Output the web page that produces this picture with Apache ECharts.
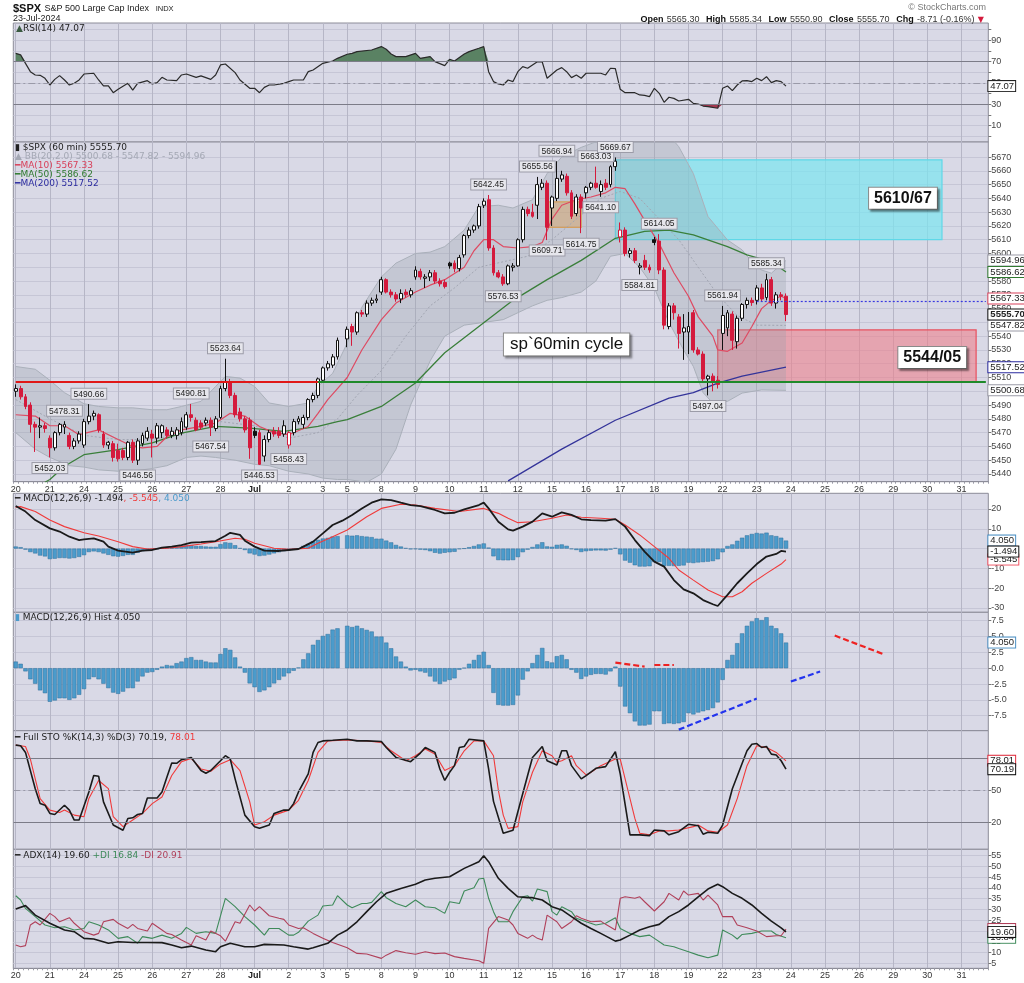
<!DOCTYPE html>
<html><head><meta charset="utf-8">
<script src="https://cdn.jsdelivr.net/npm/echarts@6/dist/echarts.min.js"></script>
<style>html,body{margin:0;padding:0;background:#fff}#c{width:1024px;height:983px}</style>
</head><body><div id="c"></div>
<script>
// ---------------- DATA ----------------
const days = ['Jun 20','Jun 21','Jun 24','Jun 25','Jun 26','Jun 27','Jun 28','Jul 1','Jul 2','Jul 3','Jul 5','Jul 8','Jul 9','Jul 10','Jul 11','Jul 12','Jul 15','Jul 16','Jul 17','Jul 18','Jul 19','Jul 22','Jul 23','Jul 24','Jul 25','Jul 26','Jul 29','Jul 30','Jul 31'];
const dayLabels = ['20','21','24','25','26','27','28','Jul','2','3','5','8','9','10','11','12','15','16','17','18','19','22','23','24','25','26','29','30','31'];
const barsPerDay = [7,7,7,7,7,7,7,7,7,5,7,7,7,7,7,7,7,7,7,7,7,7,7,7,7,7,7,7,6];

// hourly candles [open, high, low, close]
const ohlc = [
[5500,5505,5496,5502],[5502,5504,5494,5496],[5496,5498,5487,5489],[5490,5492,5470,5476],[5476,5478,5456,5474],[5474,5481,5466,5475],[5475,5477,5470,5473],
[5466,5468,5452.03,5459],[5459,5471,5457,5470],[5470,5477,5468,5476],[5474,5478.31,5469,5476],[5468,5470,5458,5460],[5460,5466,5458,5464],[5464,5471,5462,5469],
[5461,5480,5459,5478],[5478,5490.66,5476,5482],[5482,5486,5479,5484],[5483,5484,5470,5472],[5469,5471,5459,5461],[5461,5464,5458,5463],[5462,5464,5449,5452],
[5457,5462,5449,5451],[5457,5459,5450,5452],[5452,5464,5450,5463],[5463,5465,5448,5450],[5450,5466,5446.56,5464],[5462,5470,5460,5468],[5466,5474,5464,5471],
[5469,5472,5452,5466],[5466,5477,5462,5475],[5470,5476,5466,5475],[5472,5474,5466,5468],[5468,5474,5466,5471],[5468,5474,5465,5472],[5470,5481,5468,5478],
[5474,5485,5472,5483],[5483,5490.81,5478,5481],[5479,5481,5471,5472],[5477,5479,5472,5474],[5477,5481,5475,5479],[5479,5481,5467.54,5474],[5473,5482,5471,5480],
[5481,5504,5480,5502],[5502,5523.64,5500,5507],[5507,5509,5495,5497],[5497,5499,5481,5483],[5485,5488,5478,5480],[5480,5482,5470,5472],[5479,5481,5451,5459],
[5471,5474,5466,5468],[5470,5472,5446.53,5447],[5453,5468,5449,5465],[5465,5472,5463,5470],[5471,5474,5467,5469],[5471,5474,5466,5468],[5469,5479,5467,5475],
[5461,5471,5458.43,5470],[5470,5480,5468,5478],[5478,5482,5476,5480],[5476,5483,5473,5481],[5481,5495,5479,5494],[5494,5499,5492,5497],[5497,5510,5495,5509],
[5508,5518,5507.4,5517],[5517,5522,5515,5520],[5519,5527,5517,5525],[5525,5539,5523,5537],null,
[5538,5547,5532,5545],[5547,5549,5533,5543],[5543,5558,5541,5557],[5557,5559,5554,5556],[5556,5566,5554,5564],[5564,5568,5562,5566],[5566,5570.3,5564,5567],
[5572,5583.1,5570,5581],[5581,5582,5571,5572],[5572,5574,5568,5570],[5570,5572,5565,5567],[5567,5574,5564,5571],[5572,5574,5568,5570],[5570,5575,5568,5573],
[5583,5590.7,5581,5588],[5587,5589,5581,5583],[5582,5585,5575,5583],[5583,5588,5580,5586],[5586,5588,5578,5580],[5580,5582,5576,5578],[5579,5581,5574.6,5576],
[5593,5594,5589,5591],[5593,5595,5586.4,5589],[5589,5599,5587,5597],[5599,5614,5597,5613],[5613,5619,5611,5617],[5617,5621,5615,5620],[5620,5636,5618,5634],
[5635,5640,5633,5638],[5639,5642.45,5602,5604],[5604,5606,5584,5586],[5586,5588,5582,5583],[5583,5585,5576.53,5578],[5578,5592,5577,5591],[5590,5593,5587,5591],
[5591,5611,5590.4,5610],[5610,5634,5608,5632],[5632,5634,5627,5629],[5630,5636,5626,5627],[5635,5655.56,5625,5650],[5648,5654,5646,5651],[5651,5653,5609.71,5619],
[5633,5642,5620,5641],[5640,5666.94,5638,5654.5],[5654,5660,5652,5657],[5656,5658,5642,5644],[5644,5646,5625,5627],[5629,5643,5627,5641],[5641,5643,5614.75,5633],
[5644,5649,5640,5648],[5648,5652,5646,5651],[5651,5663.03,5647,5648],[5645,5653,5641.1,5650],[5651,5654,5646,5648],[5650,5664,5648,5663],[5663,5669.67,5660,5667],
[5612,5622.5,5608,5617],[5617,5619,5598,5600],[5600,5604,5597,5602],[5602,5604,5593,5595],[5590,5593,5584.81,5591],[5595,5599,5588,5590],[5590,5592,5586,5588],
[5610,5612,5606,5608],[5609,5614.05,5585,5588],[5588,5590,5545,5548],[5547,5564,5545,5562],[5562,5564,5552,5557],[5554,5556,5531,5542],[5543,5556,5522.8,5546],
[5543,5557.5,5527,5547],[5557,5559,5528,5530],[5530,5532,5526,5527],[5527,5529,5507,5509],[5509,5512,5497.04,5511],[5511,5513,5500,5507],[5508,5511,5502,5505],
[5542,5561.94,5530,5555],[5546,5559,5540,5557],[5556,5558,5530,5537],[5536,5555,5531,5553],[5553,5564,5551,5563],[5563,5568,5560,5566],[5566,5568,5562,5564.4],
[5566,5577,5563,5575],[5575,5578,5565,5567],[5568,5585.34,5566,5581],[5581,5583,5562,5564],[5564,5572,5560,5570],[5570,5572,5566,5569],[5569,5571,5550.9,5555.7]
];
const blackBars = [49,89,131];
const hollowRedBars = [56,124];

const ma10 = [[0,5483],[4,5482],[7,5475],[10,5475],[13,5468.5],[17,5472],[21,5465],[24,5460],[26,5459],[29,5460],[31,5467],[34,5472],[38,5474.5],[41,5477],[44,5484],[47,5482],[50,5474.5],[53,5470],[56,5468.5],[60,5474.5],[62,5484],[64,5494],[66,5502],[68,5510],[71,5530],[75,5552],[78,5564],[82,5572],[85,5577],[88,5581],[92,5590],[94,5602],[96,5610],[98,5610],[100,5605],[103,5604],[106,5605],[108,5608],[110,5625],[112,5635],[115,5639],[118,5641],[121,5644],[123,5648],[125,5647],[127,5636],[129,5624],[132,5607],[135,5586],[138,5569],[140,5554],[143,5540],[144,5530],[146,5529],[149,5535],[151,5547],[153,5560],[155,5566],[157,5569],[158,5567.33]];
const ma50 = [[6,5434],[7,5436],[10,5445.6],[14,5454],[21,5457.6],[28,5462.5],[34,5469.7],[41,5474.5],[48,5473.3],[55,5470.9],[62,5474.5],[66,5478],[68,5479.4],[75,5489],[82,5506],[88,5528],[95,5547],[102,5566],[109,5581],[116,5595],[123,5611],[129,5616],[134,5617],[139,5613.5],[146,5605],[150,5599],[155,5594],[158,5586.62]];
const ma200 = [[101,5435],[112,5458],[123,5479],[134,5495],[139,5499],[144,5506],[149,5511],[158,5517.52]];
const bbUpper = [[0,5518],[4,5516],[7,5508],[10,5499],[14,5491],[17,5489],[21,5488],[24,5488],[28,5486.6],[31,5486.6],[34,5489],[38,5492.7],[41,5503.5],[43,5510.8],[46,5509.6],[49,5503.5],[52,5491.5],[56,5489],[60,5491.5],[62,5503.5],[65,5513],[68,5535],[71,5561],[75,5583],[78,5593],[82,5600],[85,5601],[88,5605],[92,5617],[95,5634],[99,5635],[102,5633],[106,5639],[109,5658],[112,5670],[116,5677],[119,5681],[122,5690],[128,5700],[133,5690],[136,5677.5],[139,5658],[142,5626.8],[146,5609.8],[149,5602.6],[151,5594],[153,5588],[155,5585.7],[158,5594.96]];
const bbLower = [[0,5470],[4,5458],[7,5452],[11,5446],[14,5445],[17,5443],[21,5442],[24,5442],[28,5444],[31,5446],[35,5452],[38,5453],[41,5452],[45,5450],[49,5447],[52,5446],[56,5442],[60,5440],[63,5437],[66,5436],[68,5436],[72,5434],[75,5440],[78,5458],[81,5490],[85,5522],[88,5540],[92,5548],[96,5550],[100,5552],[103,5557],[106,5562],[109,5566],[112,5568],[116,5572],[119,5580],[122,5598],[125,5600],[128,5590],[131,5575],[134,5550],[137,5530],[139,5518],[141,5499],[143,5491.5],[146,5492.7],[149,5498.7],[153,5501],[158,5500.68]];
const bbMid = [[0,5494],[7,5480],[14,5468],[21,5465],[28,5465],[35,5470],[42,5478],[49,5475],[56,5466],[62,5470],[66,5480],[70,5497],[75,5515],[80,5540],[85,5562],[90,5575],[95,5590],[100,5594],[105,5598],[110,5610],[115,5625],[120,5640],[124,5645],[128,5640],[132,5625],[136,5610],[140,5590],[144,5570],[148,5555],[152,5548],[158,5547.82]];

const rsi = [[0,77.8],[1,76.3],[2,68.4],[3,60.6],[4,57.5],[5,57.2],[6,54.4],[7,48.1],[8,53.4],[9,56.9],[10,52.8],[11,48.1],[12,49.7],[13,52.8],[14,58.4],[16,59.1],[17,52.8],[18,47.2],[19,47.2],[20,40.9],[21,44.1],[23,49.7],[24,43.4],[25,49.7],[27,52.2],[28,49.1],[29,50.3],[30,55.3],[31,52.8],[33,52.2],[34,57.5],[35,58.4],[37,55.3],[38,56.6],[40,53.4],[41,57.5],[42,66.9],[43,67.8],[45,59.7],[46,52.8],[48,45.0],[49,45.0],[50,40.9],[51,45.9],[52,48.1],[53,48.1],[55,49.7],[56,51.3],[57,52.8],[59,52.8],[60,60.6],[61,62.2],[63,68.4],[65,70.6],[66,73.1],[68,76.9],[69,77.8],[70,79.4],[73,80.9],[75,84.1],[76,81.6],[77,77.2],[78,74.7],[80,74.7],[82,77.8],[83,73.1],[85,74.7],[86,70.0],[88,66.3],[89,72.2],[90,70.6],[92,77.2],[93,79.4],[95,82.5],[96,84.1],[97,60.6],[98,51.3],[99,49.1],[100,48.1],[101,52.8],[102,51.3],[103,60.6],[104,65.3],[105,63.8],[107,70.0],[108,69.7],[109,54.4],[111,62.2],[112,64.4],[113,60.6],[114,55.0],[115,57.5],[116,54.4],[117,59.1],[120,59.1],[121,57.5],[122,63.8],[123,63.4],[124,44.1],[125,40.9],[127,40.9],[128,38.8],[129,38.4],[130,37.2],[131,45.0],[132,40.3],[133,31.9],[134,36.6],[135,35.6],[136,33.1],[138,34.7],[139,30.9],[140,30.3],[141,28.4],[142,27.8],[144,26.3],[145,45.0],[146,47.2],[147,42.8],[148,48.1],[149,51.9],[150,52.2],[151,51.3],[152,54.4],[153,52.2],[154,55.9],[155,50.3],[156,52.2],[157,51.3],[158,47.07]];

const macd = [[0,21.5],[2,18.7],[4,14.4],[7,10.2],[9,8.6],[11,6.0],[13,4.3],[14,4.7],[16,5.2],[18,3.5],[19,1.0],[21,-1.0],[24,-2.0],[26,-1.0],[28,-0.7],[30,0.5],[32,1.0],[34,1.8],[36,3.0],[38,3.3],[41,3.8],[43,6.5],[44,8.0],[46,6.9],[47,4.0],[49,1.0],[51,-1.0],[54,-1.2],[56,-0.7],[58,-0.2],[59,1.0],[61,3.5],[63,7.7],[65,11.9],[67,14.1],[69,17.0],[71,20.3],[73,23.2],[75,24.9],[77,24.5],[79,23.2],[81,22.0],[83,21.5],[86,19.5],[88,17.8],[90,18.1],[92,19.8],[95,22.0],[96,23.2],[97,20.3],[99,13.6],[101,9.7],[102,9.1],[104,11.1],[106,13.6],[108,17.8],[110,16.1],[112,18.3],[114,17.0],[116,14.8],[118,14.4],[121,14.1],[123,14.9],[125,11.1],[127,4.3],[129,-1.5],[131,-6.6],[133,-9.1],[135,-15.9],[137,-20.6],[139,-22.6],[141,-26.0],[143,-28.1],[144,-29.0],[146,-23.4],[148,-17.5],[150,-12.5],[152,-7.8],[154,-4.0],[156,-2.7],[157,-1.2],[158,-1.494]];
const signal = [[0,20.8],[1,21.2],[4,18.7],[7,14.4],[10,11.1],[14,8.0],[17,6.4],[21,3.5],[24,1.0],[27,-0.2],[31,0.2],[34,1.0],[38,2.3],[41,3.5],[45,5.2],[47,4.7],[49,2.7],[53,0.2],[56,-0.4],[60,0.2],[62,2.7],[65,6.0],[68,9.4],[72,16.1],[75,20.3],[79,22.4],[82,22.0],[86,20.3],[91,18.7],[96,20.3],[99,17.8],[101,15.3],[103,13.1],[106,13.6],[110,15.3],[113,17.0],[116,15.8],[120,15.3],[123,14.8],[125,11.9],[128,6.9],[131,1.0],[134,-4.9],[136,-10.8],[139,-15.9],[142,-20.9],[145,-24.3],[147,-24.3],[149,-21.8],[151,-17.5],[154,-12.5],[157,-7.8],[158,-5.545]];
const hist = [1.05,0.7,-0.5,-1.75,-2.45,-3.5,-3.95,-5.3,-5.1,-4.75,
-4.75,-5.0,-4.75,-4.2,-3.3,-1.75,-1.4,-1.75,-2.45,-3.15,
-3.85,-4.05,-3.7,-3.15,-3.15,-2.1,-1.3,-0.7,-0.6,-0.25,
0.25,0.5,0.4,0.8,1.05,1.6,1.75,1.3,1.3,1.05,
0.9,0.9,2.25,3.15,2.9,1.7,0.25,-0.7,-2.4,-3.0,
-3.75,-3.5,-3.0,-2.4,-1.85,-1.3,-0.8,-0.4,0.1,1.4,
2.35,3.7,4.45,5.1,5.4,6.1,6.3,null,6.7,6.5,
6.7,6.3,6.05,5.8,5.0,5.0,4.05,3.15,1.85,1.05,
0.25,-0.35,-0.25,-0.5,-0.7,-1.3,-2.1,-2.5,-2.1,-1.85,
-1.6,-0.25,0.05,0.7,1.3,2.1,2.6,0.5,-3.9,-5.8,
-5.9,-5.9,-5.8,-4.3,-1.8,-0.5,0.8,2.1,3.2,1.1,
0.9,1.9,2.1,1.4,-0.25,-0.7,-1.7,-1.3,-1.05,-0.9,
-0.9,-1.0,-0.5,0.25,-2.9,-6.05,-7.1,-8.4,-9.05,-9.05,
-8.9,-6.8,-6.8,-8.8,-8.7,-8.8,-8.7,-8.5,-7.1,-7.3,
-7.0,-6.8,-6.6,-6.3,-5.4,-1.85,1.3,2.1,3.95,5.5,
6.7,7.4,7.9,7.6,8.05,6.7,6.3,5.5,4.05];

const stoK = [[0,92.7],[1,92.1],[2,85.9],[4,51.9],[5,37.9],[6,36.4],[7,28.7],[8,27.7],[10,36.4],[11,31.8],[12,22.5],[13,22.5],[15,48.8],[16,64.2],[17,63.6],[18,39.5],[20,17.8],[22,12.9],[23,24.0],[24,24.6],[25,27.7],[26,28.7],[27,43.2],[29,43.2],[30,48.8],[31,62.7],[32,76.0],[33,75.7],[34,79.1],[36,81.2],[37,75.1],[38,68.9],[39,66.4],[40,68.9],[42,78.1],[43,82.8],[44,79.7],[45,61.1],[47,27.1],[49,16.3],[50,14.7],[52,17.8],[53,28.7],[55,31.8],[56,31.8],[57,37.9],[58,48.8],[60,65.8],[61,85.9],[62,95.2],[63,96.7],[65,97.3],[68,98.3],[70,96.7],[72,96.7],[75,96.1],[76,90.5],[78,81.2],[81,77.2],[83,85.3],[84,90.5],[86,85.9],[87,70.4],[88,59.6],[89,67.3],[90,73.5],[91,90.5],[92,91.4],[93,98.3],[96,96.7],[97,70.4],[98,40.0],[100,10.1],[101,11.6],[102,12.9],[103,30.2],[105,64.2],[106,81.2],[108,91.4],[109,78.1],[111,74.1],[112,87.4],[113,87.4],[114,73.5],[116,61.1],[117,64.2],[119,71.0],[121,72.6],[123,86.5],[124,65.8],[126,8.6],[128,8.6],[130,7.9],[131,13.2],[133,12.3],[134,8.6],[136,11.6],[138,18.5],[140,17.2],[141,9.2],[142,11.0],[144,10.1],[145,17.8],[147,51.9],[150,87.4],[151,93.6],[152,94.2],[153,90.5],[154,91.4],[155,84.3],[156,83.4],[157,78.1],[158,70.19]];
const stoD = [[0,92.7],[2,91.4],[3,79.7],[5,42.6],[7,31.8],[9,29.6],[10,31.8],[12,27.1],[14,25.6],[15,42.6],[17,59.6],[19,51.9],[20,25.6],[22,16.3],[24,22.5],[26,28.7],[28,37.9],[30,44.1],[32,64.2],[34,77.2],[36,80.3],[38,70.4],[40,68.2],[42,75.1],[44,79.1],[46,68.9],[48,39.5],[49,17.8],[51,20.9],[53,27.1],[56,31.8],[58,41.0],[60,59.6],[62,85.9],[64,96.7],[68,97.6],[72,96.7],[75,95.2],[77,87.4],[80,78.1],[82,82.8],[84,89.0],[86,84.3],[88,68.9],[90,73.5],[92,87.4],[94,96.7],[96,96.7],[98,82.8],[99,50.3],[100,27.1],[101,14.7],[103,16.3],[104,39.5],[106,67.3],[108,87.4],[110,82.8],[111,76.6],[112,78.1],[114,82.8],[115,73.5],[117,64.8],[118,67.3],[120,73.5],[123,79.7],[124,79.7],[125,61.1],[127,24.0],[128,10.1],[130,8.6],[132,12.3],[134,12.3],[136,13.2],[139,16.3],[140,17.8],[142,12.3],[144,11.0],[146,17.8],[148,42.6],[150,73.5],[152,92.1],[154,90.5],[156,85.9],[158,78.01]];

const adx = [[0,30.2],[2,31.8],[4,27.4],[7,23.6],[10,20.5],[12,19.7],[14,16.6],[16,16.3],[19,14.3],[21,15.0],[24,14.7],[27,14.7],[30,14.6],[32,13.5],[34,12.2],[36,13.0],[39,11.2],[41,10.4],[42,12.7],[44,14.3],[47,12.7],[49,12.7],[51,13.8],[55,13.5],[57,12.7],[60,11.6],[61,12.2],[64,14.3],[66,18.1],[68,20.5],[70,24.3],[72,29.0],[74,33.6],[76,37.5],[79,39.8],[82,41.7],[84,43.7],[86,44.5],[89,45.2],[92,49.1],[95,52.2],[96,55.0],[97,52.2],[99,44.5],[101,39.8],[103,35.9],[105,35.5],[106,35.5],[108,34.4],[110,31.3],[112,29.8],[114,26.7],[116,23.6],[118,21.2],[120,18.9],[123,15.3],[124,15.8],[126,18.1],[128,20.5],[130,22.0],[132,23.1],[134,26.7],[136,29.0],[138,32.1],[140,35.9],[142,39.5],[144,41.7],[145,40.6],[147,37.5],[149,35.2],[151,32.1],[153,28.2],[155,24.6],[157,21.5],[158,19.60]];
const diPlus = [[0,36.4],[1,34.4],[2,30.5],[4,26.7],[6,22.8],[8,21.5],[10,22.0],[12,20.5],[14,21.2],[15,24.3],[17,22.8],[19,20.5],[21,16.6],[23,17.4],[25,14.3],[26,17.4],[28,16.6],[30,18.1],[32,16.6],[34,18.9],[35,21.7],[37,18.9],[39,19.7],[41,18.9],[43,35.2],[45,31.3],[47,26.7],[49,22.8],[51,18.1],[52,21.2],[54,21.2],[56,18.1],[57,18.1],[58,19.4],[60,24.6],[62,27.4],[63,31.6],[65,32.1],[66,36.4],[68,32.1],[69,30.8],[71,32.8],[72,32.8],[73,33.3],[75,38.3],[76,35.5],[78,32.8],[80,31.3],[82,34.4],[84,31.3],[86,30.8],[88,28.2],[89,33.6],[91,32.8],[92,38.6],[94,40.1],[95,44.2],[96,44.5],[97,35.2],[98,29.0],[99,24.3],[101,24.3],[102,29.0],[104,35.9],[105,36.4],[106,33.9],[107,39.5],[109,38.3],[110,29.0],[111,27.4],[112,31.3],[114,29.0],[115,25.9],[117,24.3],[119,22.8],[121,23.6],[123,26.2],[124,21.2],[126,18.9],[128,17.4],[130,18.1],[131,16.6],[133,13.5],[135,12.7],[136,11.9],[138,10.4],[140,8.8],[142,7.6],[144,8.8],[145,20.5],[147,18.1],[148,16.3],[149,18.4],[151,18.9],[153,20.0],[155,20.0],[156,18.4],[158,16.84]];
const diMinus = [[0,13.5],[1,12.7],[2,13.2],[3,22.8],[4,24.3],[5,22.8],[7,28.2],[8,26.7],[9,24.3],[11,26.2],[12,23.6],[14,19.7],[16,18.1],[17,18.9],[18,24.3],[20,25.4],[21,23.6],[23,21.2],[24,23.1],[25,21.2],[27,20.0],[28,23.6],[30,20.5],[31,18.9],[32,18.4],[34,15.8],[36,13.5],[37,17.8],[39,15.8],[40,20.0],[42,17.8],[43,15.3],[45,24.3],[46,23.6],[48,32.1],[49,29.3],[50,31.3],[52,27.1],[54,25.9],[55,25.4],[56,22.8],[58,21.2],[59,21.5],[61,18.9],[63,16.6],[65,14.7],[68,12.2],[70,9.6],[72,9.3],[75,7.3],[76,8.8],[78,10.9],[80,9.9],[82,9.2],[84,10.4],[86,9.5],[88,9.8],[90,8.1],[92,7.3],[95,6.2],[96,5.0],[97,21.2],[99,26.7],[101,25.1],[102,22.8],[103,18.9],[105,16.6],[106,18.1],[107,16.6],[108,15.8],[109,27.4],[111,24.3],[112,21.2],[114,24.3],[115,27.1],[116,25.9],[117,25.1],[118,24.3],[120,24.6],[121,23.1],[123,20.5],[124,35.2],[125,35.9],[127,35.2],[128,35.9],[129,33.6],[131,29.3],[133,33.6],[134,37.5],[136,34.4],[137,38.6],[138,36.7],[140,37.5],[141,34.4],[142,36.7],[144,32.1],[145,26.7],[147,26.7],[148,22.8],[150,21.5],[152,20.0],[154,17.4],[156,17.8],[157,17.8],[158,20.91]];

// swing labels
const swingHighs = [[10,5478.31],[15,5490.66],[36,5490.81],[43,5523.64],[97,5642.45],[107,5655.56],[111,5666.94],[119,5663.03],[123,5669.67],[132,5614.05],[145,5561.94],[154,5585.34]];
const swingLows = [[7,5452.03],[25,5446.56],[40,5467.54],[50,5446.53],[56,5458.43],[100,5576.53],[109,5609.71],[116,5614.75],[120,5641.10],[128,5584.81],[142,5497.04]];

// annotations
const zones = [
  {from:123, to:190, lo:5610, hi:5668, fill:'rgba(125,228,240,0.72)', line:'#5fd8e8'},
  {from:144, to:197, lo:5507, hi:5544.5, fill:'rgba(236,128,140,0.6)', line:'#e8505e'},
  {from:109, to:116, lo:5619, hi:5637.5, fill:'rgba(240,170,90,0.55)', line:'#f0a040'}
];
const notes = [
  {text:'5610/67', x:182.4, y:5640, size:16, bold:true},
  {text:'5544/05', x:188.2, y:5524.5, size:16, bold:true},
  {text:'sp`60min cycle', x:113, y:5534, size:17, bold:false}
];
const levelLine = 5507;
const levelSplit = 62;
const openLine = 5565.3;
const histNotes = [
  {c:'#ee2222', pts:[[123.1,0.89],[129.1,0.26]]},
  {c:'#ee2222', pts:[[131.1,0.53],[134.9,0.53]]},
  {c:'#ee2222', pts:[[168,5.16],[178.3,2.21]]},
  {c:'#2233ee', pts:[[136.1,-9.7],[152.1,-4.8]]},
  {c:'#2233ee', pts:[[159.2,-2.11],[165.1,-0.53]]}
];

// axis ticks
const rsiTicks = [0,10,20,30,40,50,60,70,80,90,100];
const rsiLabels = [10,30,50,70,90];
const priceTicks = []; for (let v = 5440; v <= 5670; v += 10) priceTicks.push(v);
const macdTicks = [-30,-20,-10,0,10,20];
const histTicks = [-7.5,-5,-2.5,0,2.5,5,7.5];
const stoTicks = [20,50,80];
const adxTicks = [5,10,15,20,25,30,35,40,45,50,55];

const rsiTags = [[47.07,'47.07','#222']];
const priceTags = [[5594.96,'5594.96','#9a9aa6'],[5586.62,'5586.62','#2f7a2f'],[5567.33,'5567.33','#d8405a'],[5547.82,'5547.82','#9a9aa6'],[5555.70,'5555.70','#111',true],[5517.52,'5517.52','#2b2b9f'],[5500.68,'5500.68','#9a9aa6']];
const macdTags = [[4.05,'4.050','#4b8fc4'],[-5.545,'-5.545','#f05060'],[-1.494,'-1.494','#111']];
const histTags = [[4.05,'4.050','#4b8fc4']];
const stoTags = [[78.01,'78.01','#e03040'],[70.19,'70.19','#111']];
const adxTags = [[20.91,'20.91','#b0405a'],[16.84,'16.84','#3e8a5a'],[19.60,'19.60','#111']];

// ---------------- BUILD ----------------
const categories = []; const dayStartLabel = {};
days.forEach((d, k) => { for (let b = 0; b < barsPerDay[k]; b++) { if (b === 0) dayStartLabel[categories.length] = dayLabels[k]; categories.push(d + ' #' + (b + 1)); } });
const LAST = categories.length - 1;
const isDayStart = (idx) => dayStartLabel[idx] !== undefined;

const BG = '#d9d9e6', BORDER = '#8c8c98', RED = '#d41a3c';
const FONT = 'Liberation Sans, Arial, sans-serif';

const grids = [
  {top:23, height:119}, {top:142, height:339.7}, {top:493.3, height:119},
  {top:612.3, height:118.4}, {top:730.7, height:118.6}, {top:849.3, height:119}
].map(g => Object.assign({left:13.3, right:35.7, show:true, backgroundColor:BG, borderColor:BORDER, borderWidth:1}, g));

const xAxes = grids.map((g, i) => {
  const lab = (i === 1 || i === 5);
  return {type:'category', gridIndex:i, data:categories, boundaryGap:true,
    axisLine:{show:lab, lineStyle:{color:BORDER}},
    axisTick:{show:lab, interval:0, length:2, lineStyle:{color:'#9a9aa6'}},
    axisLabel:{show:lab, interval:(idx) => isDayStart(idx), margin:3, fontSize:9, color:'#333', fontFamily:FONT,
      formatter:(v, idx) => { const t = dayStartLabel[idx]; return t === 'Jul' ? '{b|Jul}' : (t || ''); },
      rich:{b:{fontWeight:'bold', fontSize:9, color:'#222', fontFamily:FONT}}},
    splitLine:{show:true, interval:(idx) => isDayStart(idx), alignWithLabel:true, lineStyle:{color:'#b6b6c6', width:1}}};
});

function yAx(i, min, max, ticks, labels, fmt) {
  return {type:'value', gridIndex:i, position:'right', min, max, scale:true,
    axisLine:{show:false},
    axisTick:{show:true, length:3, customValues:ticks, lineStyle:{color:'#777'}},
    axisLabel:{customValues:labels, margin:3, fontSize:9, color:'#444', fontFamily:FONT, formatter:fmt || (v => String(v))},
    splitLine:{show:true, lineStyle:{color:'#c6c6d6', width:1}}};
}
const yAxes = [
  yAx(0, -5.3, 106.2, rsiTicks, rsiLabels),
  yAx(1, 5434.4, 5680.9, priceTicks, priceTicks),
  yAx(2, -32.17, 27.93, macdTicks, macdTicks),
  yAx(3, -9.87, 8.83, histTicks, histTicks, v => v.toFixed(1)),
  yAx(4, -4.94, 106.25, stoTicks, stoTicks),
  yAx(5, 2.68, 57.97, adxTicks, adxTicks)
];

function tagMP(list) {
  return {symbol:'rect', symbolSize:1, silent:true, itemStyle:{color:'transparent'},
    data:list.map(t => ({coord:[LAST, t[0]], name:t[1],
      label:{show:true, position:'right', distance:2, formatter:'{b}', fontSize:9.5, lineHeight:9, fontFamily:FONT,
        fontWeight:t[3] ? 'bold' : 'normal', color:'#222', backgroundColor:'#fff', borderColor:t[2], borderWidth:1, padding:[1,1,0,2]}}))};
}
function line(name, xi, data, color, width, extra) {
  return Object.assign({name, type:'line', xAxisIndex:xi, yAxisIndex:xi, data, symbol:'none', silent:true,
    lineStyle:{color, width}, z:3, animation:false}, extra || {});
}
const refLine = (v, dash) => ({yAxis:v, lineStyle:{color: dash ? '#9a9aa8' : '#7c7c88', width:1.2, type: dash ? [7,3,2,3] : 'solid'}});
const markLines = (arr) => ({symbol:['none','none'], silent:true, label:{show:false}, data:arr});

const candleData = ohlc.map((r, i) => {
  if (!r) return '-';
  const item = {value:[r[0], r[3], r[2], r[1]]};
  if (blackBars.includes(i)) item.itemStyle = {color:'#111', color0:'#111', borderColor:'#111', borderColor0:'#111'};
  if (hollowRedBars.includes(i)) item.itemStyle = {color:'#fff', borderColor:RED};
  return item;
});

const series = [];
// RSI
series.push(line('rsiHi', 0, rsi.map(p => [p[0], Math.max(p[1], 70)]), 'transparent', 0, {areaStyle:{origin:70, color:'#5a8263', opacity:1}, z:2}));
series.push(line('rsiLo', 0, rsi.map(p => [p[0], Math.min(p[1], 30)]), 'transparent', 0, {areaStyle:{origin:30, color:'#a3364e', opacity:1}, z:2}));
series.push(line('rsi', 0, rsi, '#2a2a2a', 1.2, {markLine:markLines([refLine(70), refLine(30), refLine(50, true)]), markPoint:tagMP(rsiTags)}));

// Price panel
series.push({type:'custom', xAxisIndex:1, yAxisIndex:1, z:1, silent:true, clip:true, data:[[0, 5500]],
  renderItem:(params, api) => {
    const pts = bbUpper.map(p => api.coord(p)).concat(bbLower.slice().reverse().map(p => api.coord(p)));
    return {type:'polygon', shape:{points:pts}, style:{fill:'rgba(150,158,170,0.30)', stroke:'none'}};
  }});
series.push(line('bbU', 1, bbUpper, '#aab0ba', 1, {z:2}));
series.push(line('bbL', 1, bbLower, '#aab0ba', 1, {z:2}));
series.push(line('bbM', 1, bbMid, '#a2a6b2', 1, {z:2, lineStyle:{color:'#a2a6b2', width:1, type:[2,2]}}));
series.push(line('ma200', 1, ma200, '#34349a', 1.3));
series.push(line('ma50', 1, ma50, '#3a7f3a', 1.3));
series.push(line('ma10', 1, ma10, '#de4a62', 1.2));
series.push({type:'candlestick', xAxisIndex:1, yAxisIndex:1, data:candleData, barWidth:3.4, z:4, silent:true,
  itemStyle:{color:'#ffffff', color0:RED, borderColor:'#111', borderColor0:RED, borderWidth:1}});
series.push(line('zones', 1, [[158, 5555.7]], 'transparent', 0, {z:5,
  markArea:{silent:true, data:zones.map(z => [{coord:[z.from, z.hi], itemStyle:{color:z.fill, borderColor:z.line, borderWidth:1.2}}, {coord:[z.to, z.lo]}])},
  markLine:{symbol:['none','none'], silent:true, label:{show:false}, data:[
    [{coord:[0, levelLine], lineStyle:{color:'#e01818', width:2, type:'solid'}}, {coord:[levelSplit, levelLine]}],
    [{coord:[levelSplit, levelLine], lineStyle:{color:'#1f8a2a', width:2, type:'solid'}}, {coord:[LAST, levelLine]}],
    [{coord:[152, openLine], lineStyle:{color:'#3a3ae0', width:1.2, type:[2,2]}}, {coord:[LAST, openLine]}]
  ]}}));
const calloutLabel = (pos) => ({show:true, position:pos, distance:5, formatter:'{b}', fontSize:8.5, fontFamily:FONT, color:'#222',
  backgroundColor:'#e6e6ec', borderColor:'#9c9ca8', borderWidth:1, padding:[1,2,0,2], lineHeight:9});
series.push(line('callouts', 1, [[158, 5555.7]], 'transparent', 0, {z:6,
  markPoint:{symbol:'rect', symbolSize:1, silent:true, itemStyle:{color:'transparent'},
    data: swingHighs.map(p => ({coord:p, name:p[1].toFixed(2), label:calloutLabel('top')}))
      .concat(swingLows.map(p => ({coord:p, name:p[1].toFixed(2), label:calloutLabel('bottom')})))}}));
series.push(line('notes', 1, [[158, 5555.7]], 'transparent', 0, {z:7,
  markPoint:{symbol:'rect', symbolSize:1, silent:true, itemStyle:{color:'transparent'},
    data: notes.map(n => ({coord:[n.x, n.y], name:n.text, label:{show:true, position:'inside', formatter:'{b}', fontSize:n.size,
      fontWeight:n.bold ? 'bold' : 'normal', fontFamily:FONT, color:'#111', backgroundColor:'#fff', borderColor:'#8a8a8a', borderWidth:1,
      padding: n.bold ? [3,5,2,5] : [3,6,2,6], shadowColor:'rgba(0,0,0,0.35)', shadowOffsetX:2, shadowOffsetY:2, shadowBlur:2}}))}}));
series.push(line('ptags', 1, [[158, 5555.7]], 'transparent', 0, {z:8, markPoint:tagMP(priceTags)}));

// MACD
const barStyle = {color:'#4b9bcb', borderColor:'#2f6f9a', borderWidth:0.5};
series.push({type:'bar', xAxisIndex:2, yAxisIndex:2, data:hist, barCategoryGap:'12%', itemStyle:barStyle, silent:true, z:2});
series.push(line('signal', 2, signal, '#f03a3a', 1.1));
series.push(line('macd', 2, macd, '#1a1a1a', 1.8, {markPoint:tagMP(macdTags)}));
// Hist
series.push({type:'bar', xAxisIndex:3, yAxisIndex:3, data:hist, barCategoryGap:'12%', itemStyle:barStyle, silent:true, z:2, markPoint:tagMP(histTags),
  markLine:{symbol:['none','none'], silent:true, label:{show:false},
    data:histNotes.map(n => [{coord:n.pts[0], lineStyle:{color:n.c, width:2.2, type:[6,3]}}, {coord:n.pts[1]}])}});
// STO
series.push(line('stoD', 4, stoD, '#f03a3a', 1.1, {markLine:markLines([refLine(80), refLine(20), refLine(50, true)])}));
series.push(line('stoK', 4, stoK, '#1a1a1a', 1.6, {markPoint:tagMP(stoTags)}));
// ADX
series.push(line('diPlus', 5, diPlus, '#3e8a5a', 1.1));
series.push(line('diMinus', 5, diMinus, '#b0405a', 1.1));
series.push(line('adx', 5, adx, '#1a1a1a', 1.6, {markPoint:tagMP(adxTags)}));

// titles
const T = (x, y, text, rich) => ({type:'text', x, y, z:100, silent:true, style:{text, rich, verticalAlign:'middle', font:'9px DejaVu Sans', fill:'#222'}});
const F = (c, w) => ({fill:c, font:(w || '') + ' 9px DejaVu Sans'});
const graphic = [
  {type:'text', x:13, y:3, z:100, silent:true, style:{text:'{a|$SPX} {b|S&P 500 Large Cap Index}  {c|INDX}', rich:{a:{fill:'#111', font:'bold 11px Liberation Sans'}, b:{fill:'#222', font:'9px Liberation Sans'}, c:{fill:'#222', font:'7.5px Liberation Sans'}}}},
  {type:'text', x:13, y:14, z:100, silent:true, style:{text:'23-Jul-2024', fill:'#222', font:'9px Liberation Sans'}},
  {type:'text', right:38, top:3, z:100, silent:true, style:{text:'© StockCharts.com', fill:'#777', font:'9px Liberation Sans'}},
  {type:'text', right:40, top:14, z:100, silent:true, style:{text:'{k|Open} {v|5565.30}  {k|High} {v|5585.34}  {k|Low} {v|5550.90}  {k|Close} {v|5555.70}  {k|Chg} {v|-8.71 (-0.16%)} {r|▼}',
    rich:{k:{fill:'#111', font:'bold 9px Liberation Sans'}, v:{fill:'#333', font:'9px Liberation Sans'}, r:{fill:'#d41a3c', font:'8px DejaVu Sans'}}}},
  T(16, 29, '{g|▲}{a|RSI(14) 47.07}', {g:F('#3a5a40'), a:F('#222')}),
  T(15, 147.5, '{a|▮ $SPX (60 min) 5555.70}', {a:F('#222')}),
  T(15, 156.7, '{a|▲ BB(20,2.0) 5500.68 - 5547.82 - 5594.96}', {a:F('#a4a8b4')}),
  T(15, 165.7, '{a|━MA(10) 5567.33}', {a:F('#d8405a')}),
  T(15, 174.7, '{a|━MA(50) 5586.62}', {a:F('#2f7a2f')}),
  T(15, 183.3, '{a|━MA(200) 5517.52}', {a:F('#2b2b9f')}),
  T(15, 499, '{a|━ MACD(12,26,9) -1.494}{r|, -5.545}{b|, 4.050}', {a:F('#222'), r:F('#f03a3a'), b:F('#4b9bcb')}),
  T(15, 617.7, '{b|▮}{a| MACD(12,26,9) Hist 4.050}', {a:F('#222'), b:F('#4b9bcb')}),
  T(15, 737.3, '{a|━ Full STO %K(14,3) %D(3) 70.19, }{r|78.01}', {a:F('#222'), r:F('#f03a3a')}),
  T(15, 855.7, '{a|━ ADX(14) 19.60 }{g|+DI 16.84 }{r|-DI 20.91}', {a:F('#222'), g:F('#3e8a5a'), r:F('#b0405a')})
];

const chart = echarts.init(document.getElementById('c'), null, {renderer:'canvas', width:1024, height:983});
chart.setOption({animation:false, backgroundColor:'#fff', textStyle:{fontFamily:FONT},
  grid:grids, xAxis:xAxes, yAxis:yAxes, series, graphic});
</script></body></html>
